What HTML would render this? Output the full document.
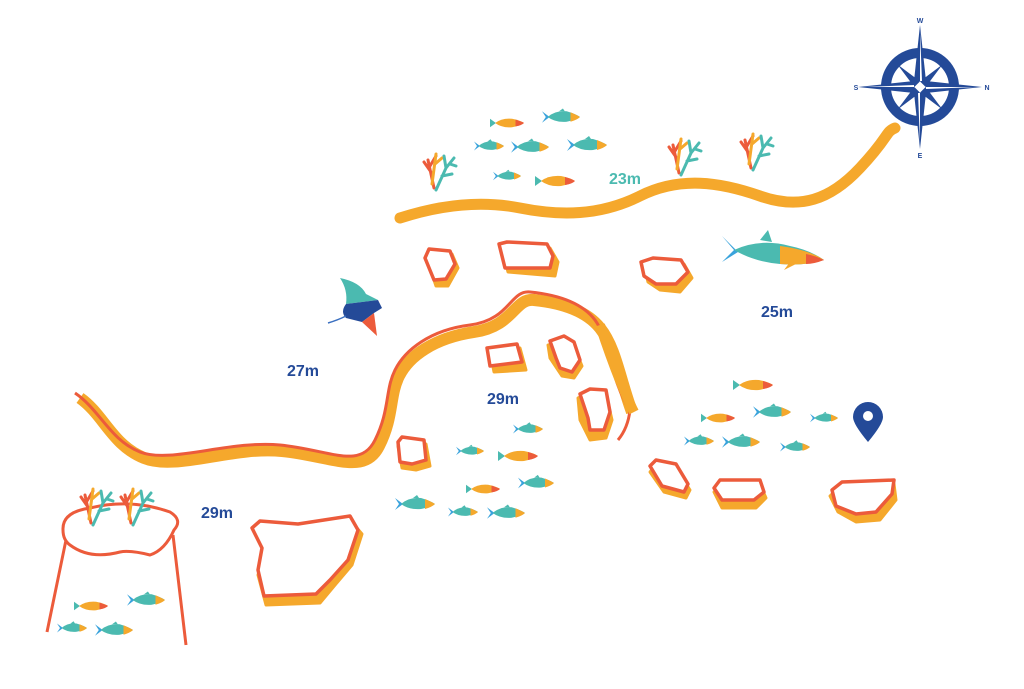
<!DOCTYPE html>
<html><head><meta charset="utf-8"><style>
html,body{margin:0;padding:0;background:#fff;}
svg{display:block}
text{font-family:"Liberation Sans",sans-serif;font-weight:bold;}
</style></head><body>
<svg width="1024" height="689" viewBox="0 0 1024 689" xmlns="http://www.w3.org/2000/svg">
<defs>
  <g id="fa"><path d="M-20,-6 L-12,0 L-20,6 L-16,0Z" fill="#3aa3dc"/><path d="M-14,0 Q-6,-7 6,-6 Q16,-3 20,0 Q16,3 6,5 Q-6,6 -14,0Z" fill="#4bbab0"/><path d="M10,-5 Q17,-2 20,0 Q17,3 10,5Z" fill="#f5a82c"/><path d="M-2,-6 L2,-9 L4,-6Z" fill="#4bbab0"/></g>
  <g id="fb"><path d="M-20,-5 L-13,0 L-20,5Z" fill="#4bbab0"/><path d="M-14,0 Q-6,-6 6,-5 Q16,-3 20,0 Q16,3 6,5 Q-6,6 -14,0Z" fill="#f5a82c"/><path d="M10,-4 Q17,-2 20,0 Q17,3 10,4Z" fill="#ec5b3b"/></g>
</defs>

<!-- top band -->
<path d="M400,218 C440,205 480,200 520,208 S600,216 640,196 S720,182 760,196 S830,200 860,168 S885,132 895,128" fill="none" stroke="#f5a82c" stroke-width="11" stroke-linecap="round"/>

<!-- big band -->
<path d="M80,398 C104,415 112,445 144,458 S232,446 282,451 S364,476 379,446 S389,396 399,376 S434,338 474,332 S514,298 534,300 S584,308 600,328 S620,380 632,412" fill="none" stroke="#f5a82c" stroke-width="12"/>
<path d="M75,393 C100,410 110,440 140,452 S230,440 280,445 S360,470 375,440 S385,390 395,370 S430,330 470,325 S510,290 530,292 S580,300 595,320 S610,380 630,410 Q628,428 618,440" fill="none" stroke="#ec5b3b" stroke-width="3"/>
<path d="M600,325 Q618,380 634,412" fill="none" stroke="#f5a82c" stroke-width="10"/>

<!-- rocks -->
<g stroke-linejoin="round">
<g fill="#f5a82c" stroke="#f5a82c" stroke-width="3"><path d="M428,262 L432,252 L452,254 L458,268 L448,286 L436,286Z"/><path d="M502,248 L510,246 L550,248 L558,262 L555,276 L508,272Z"/><path d="M644,266 L656,262 L684,264 L692,278 L680,292 L660,290 L648,282Z"/><path d="M490,352 L520,348 L526,370 L494,372Z"/><path d="M548,345 L564,340 L574,346 L582,366 L574,378 L562,376 L550,358Z"/><path d="M578,398 L588,393 L606,394 L612,420 L606,438 L590,440 L580,420Z"/><path d="M398,446 L404,441 L426,444 L430,466 L416,470 L402,468Z"/><path d="M650,472 L656,464 L676,468 L690,490 L686,498 L664,492Z"/><path d="M714,492 L720,484 L760,484 L766,498 L756,508 L722,508Z"/><path d="M830,496 L840,486 L894,484 L896,500 L880,520 L856,522 L838,512Z"/><path d="M254,532 L262,525 L300,528 L350,520 L362,534 L352,565 L335,585 L320,603 L266,605 L258,575 L264,552Z"/></g>
<g fill="#fff" stroke="#ec5b3b" stroke-width="3.5"><path d="M425,258 L429,249 L450,251 L455,264 L446,279 L434,280Z"/><path d="M499,244 L507,242 L547,244 L553,256 L550,268 L505,268Z"/><path d="M641,262 L653,258 L681,260 L688,272 L676,284 L656,284 L644,276Z"/><path d="M487,348 L517,344 L522,362 L490,366Z"/><path d="M550,341 L564,336 L574,342 L580,360 L572,372 L560,368 L556,358Z"/><path d="M580,394 L590,389 L606,390 L610,412 L604,430 L590,430 L588,418Z"/><path d="M398,442 L402,437 L424,440 L426,460 L412,464 L400,462Z"/><path d="M650,466 L656,460 L676,464 L688,484 L684,492 L662,486Z"/><path d="M714,488 L720,480 L760,480 L764,492 L754,500 L722,500Z"/><path d="M832,490 L842,482 L894,480 L892,494 L876,512 L856,514 L836,506Z"/><path d="M252,528 L260,521 L298,524 L350,516 L358,530 L348,560 L330,580 L316,594 L264,596 L258,570 L262,548Z"/></g>
</g>

<!-- bottom left structure -->
<path d="M63,530 Q62,512 90,508 Q130,498 170,512 Q183,520 174,530 Q165,550 150,555 Q130,550 120,552 Q90,560 70,545 Q63,540 63,530Z M66,540 L47,632 M173,535 L186,645" fill="none" stroke="#ec5b3b" stroke-width="3"/>

<!-- corals -->
<g stroke-width="3" fill="none" stroke-linecap="round">
 <g transform="translate(438,170)"><path d="M-4,18 L-10,-10 M-7,2 L-14,-8 M-8,-4 L-2,-14" stroke="#ec5b3b"/><path d="M-6,14 L-2,-16 M-3,-6 L4,-12" stroke="#f5a82c"/><path d="M-2,20 L8,-2 L16,-12 M4,6 L14,4 M8,-2 L6,-14 M12,-6 L18,-4" stroke="#4bbab0"/></g>
 <g transform="translate(683,155)"><path d="M-4,18 L-10,-10 M-7,2 L-14,-8 M-8,-4 L-2,-14" stroke="#ec5b3b"/><path d="M-6,14 L-2,-16 M-3,-6 L4,-12" stroke="#f5a82c"/><path d="M-2,20 L8,-2 L16,-12 M4,6 L14,4 M8,-2 L6,-14 M12,-6 L18,-4" stroke="#4bbab0"/></g>
 <g transform="translate(755,150)"><path d="M-4,18 L-10,-10 M-7,2 L-14,-8 M-8,-4 L-2,-14" stroke="#ec5b3b"/><path d="M-6,14 L-2,-16 M-3,-6 L4,-12" stroke="#f5a82c"/><path d="M-2,20 L8,-2 L16,-12 M4,6 L14,4 M8,-2 L6,-14 M12,-6 L18,-4" stroke="#4bbab0"/></g>
 <g transform="translate(95,505)"><path d="M-4,18 L-10,-10 M-7,2 L-14,-8 M-8,-4 L-2,-14" stroke="#ec5b3b"/><path d="M-6,14 L-2,-16 M-3,-6 L4,-12" stroke="#f5a82c"/><path d="M-2,20 L8,-2 L16,-12 M4,6 L14,4 M8,-2 L6,-14 M12,-6 L18,-4" stroke="#4bbab0"/></g>
 <g transform="translate(135,505)"><path d="M-4,18 L-10,-10 M-7,2 L-14,-8 M-8,-4 L-2,-14" stroke="#ec5b3b"/><path d="M-6,14 L-2,-16 M-3,-6 L4,-12" stroke="#f5a82c"/><path d="M-2,20 L8,-2 L16,-12 M4,6 L14,4 M8,-2 L6,-14 M12,-6 L18,-4" stroke="#4bbab0"/></g>
</g>

<!-- fish -->
<use href="#fb" transform="translate(507,123) scale(0.85)"/>
<use href="#fa" transform="translate(561,117) scale(0.95)"/>
<use href="#fa" transform="translate(489,146) scale(0.75)"/>
<use href="#fa" transform="translate(530,147) scale(0.95)"/>
<use href="#fa" transform="translate(587,145) scale(1)"/>
<use href="#fa" transform="translate(507,176) scale(0.7)"/>
<use href="#fb" transform="translate(555,181) scale(1)"/>
<use href="#fb" transform="translate(753,385) scale(1)"/>
<use href="#fb" transform="translate(718,418) scale(0.85)"/>
<use href="#fa" transform="translate(772,412) scale(0.95)"/>
<use href="#fa" transform="translate(824,418) scale(0.7)"/>
<use href="#fa" transform="translate(699,441) scale(0.75)"/>
<use href="#fa" transform="translate(741,442) scale(0.95)"/>
<use href="#fa" transform="translate(795,447) scale(0.75)"/>
<use href="#fa" transform="translate(528,429) scale(0.75)"/>
<use href="#fa" transform="translate(470,451) scale(0.7)"/>
<use href="#fb" transform="translate(518,456) scale(1)"/>
<use href="#fa" transform="translate(536,483) scale(0.9)"/>
<use href="#fb" transform="translate(483,489) scale(0.85)"/>
<use href="#fa" transform="translate(415,504) scale(1)"/>
<use href="#fa" transform="translate(463,512) scale(0.75)"/>
<use href="#fa" transform="translate(506,513) scale(0.95)"/>
<use href="#fb" transform="translate(91,606) scale(0.85)"/>
<use href="#fa" transform="translate(146,600) scale(0.95)"/>
<use href="#fa" transform="translate(72,628) scale(0.75)"/>
<use href="#fa" transform="translate(114,630) scale(0.95)"/>

<!-- shark -->
<g>
<path d="M722,236 L734,250 L722,262 L738,252Z" fill="#3aa3dc"/>
<path d="M734,250 Q760,238 790,246 Q810,250 824,260 Q805,266 780,264 Q755,262 734,250Z" fill="#4bbab0"/>
<path d="M760,240 L768,230 L772,242Z" fill="#4bbab0"/>
<path d="M780,246 Q810,250 824,260 Q805,266 780,264Z" fill="#f5a82c"/>
<path d="M806,254 Q816,256 824,260 Q814,264 806,264Z" fill="#ec5b3b"/>
<path d="M790,262 L784,270 L798,263Z" fill="#f5a82c"/>
</g>

<!-- manta -->
<g>
<path d="M340,278 Q360,282 366,294 L378,300 L346,304 Q348,290 340,278Z" fill="#4bbab0"/>
<path d="M346,304 L378,300 L382,308 L374,313 L362,322 L346,318 Q340,312 346,304Z" fill="#244a98"/>
<path d="M362,322 L374,313 L377,336 Z" fill="#ec5b3b"/>
<path d="M346,316 Q338,320 328,323" stroke="#3a6fc0" stroke-width="1.5" fill="none"/>
</g>

<!-- pin -->
<path d="M868,442 Q853,424 853,417 A15,15 0 1 1 883,417 Q883,424 868,442Z" fill="#244a98"/>
<circle cx="868" cy="416" r="5" fill="#fff"/>

<!-- compass -->
<g transform="translate(920,87)">
<circle r="34" fill="none" stroke="#244a98" stroke-width="10"/>
<g fill="#244a98">
<path d="M0,-62 L6,-6 L-6,-6Z"/><path d="M0,62 L6,6 L-6,6Z"/><path d="M-62,0 L-6,6 L-6,-6Z"/><path d="M62,0 L6,6 L6,-6Z"/>
<g transform="rotate(45)"><path d="M0,-32 L4,-4 L-4,-4Z"/><path d="M0,32 L4,4 L-4,4Z"/><path d="M-32,0 L-4,4 L-4,-4Z"/><path d="M32,0 L4,4 L4,-4Z"/></g>
</g>
<g fill="#fff"><path d="M0,-56 L2,-6 L0,-6Z"/><path d="M56,0 L6,2 L6,0Z"/><path d="M0,56 L-2,6 L0,6Z"/><path d="M-56,0 L-6,-2 L-6,0Z"/></g>
<text x="0" y="-64" font-size="7" fill="#244a98" text-anchor="middle">W</text>
<text x="0" y="71" font-size="7" fill="#244a98" text-anchor="middle">E</text>
<text x="-64" y="3" font-size="7" fill="#244a98" text-anchor="middle">S</text>
<text x="67" y="3" font-size="7" fill="#244a98" text-anchor="middle">N</text>
</g>

<!-- labels -->
<text x="609" y="184" font-size="16" fill="#4bbab0">23m</text>
<text x="761" y="317" font-size="16" fill="#244a98">25m</text>
<text x="287" y="376" font-size="16" fill="#244a98">27m</text>
<text x="487" y="404" font-size="16" fill="#244a98">29m</text>
<text x="201" y="518" font-size="16" fill="#244a98">29m</text>
</svg>
</body></html>
